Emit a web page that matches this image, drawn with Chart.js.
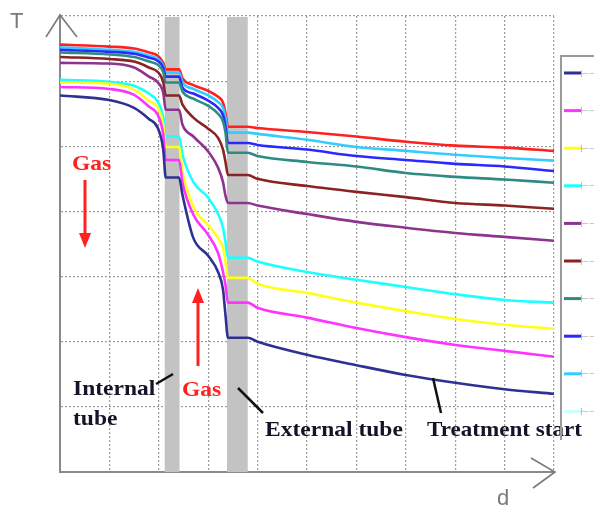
<!DOCTYPE html>
<html><head><meta charset="utf-8">
<style>html,body{margin:0;padding:0;background:#fff;overflow:hidden}#wrap{width:594px;height:505px;position:relative}</style>
<script src="https://cdn.jsdelivr.net/npm/chart.js@4"></script>
</head><body><div id="wrap"><canvas id="c"></canvas></div>
<script>
// distance d (0..100), sampled positions
const dPoints = [0,10,15,18,19.8,20.9,21.4,24.1,24.8,27,30,32,33,33.5,34,38,40,50,60,70,80,90,100];
// temperature T series (bottom to top)
const tNavy    = [57.8,57.1,55.9,54.2,52.8,49.5,45.2,45.2,42.5,35.9,33.2,30.7,28.0,24.1,20.6,20.6,20.0,18.0,16.4,14.9,13.7,12.7,12.0];
const tMagenta = [59.1,58.8,57.9,56.1,54.8,51.8,47.9,47.9,44.4,39.5,36.4,33.6,30.7,28.7,26.0,26.0,25.2,23.7,22.1,20.7,19.5,18.6,17.7];
const tYellow  = [59.8,59.6,58.7,57.0,55.9,53.3,49.9,49.9,46.1,40.7,37.9,35.9,34.4,32.3,29.8,29.8,28.9,27.5,26.0,24.7,23.5,22.6,22.0];
const tCyan    = [60.2,59.9,59.3,58.1,56.8,54.5,51.5,51.5,48.7,44.5,42.1,39.6,37.5,35.3,32.9,32.9,32.3,30.7,29.5,28.4,27.3,26.4,26.0];
const tPurple  = [62.8,62.7,62.1,60.7,59.8,58.2,55.6,55.6,53.3,51.5,49.2,46.7,44.5,42.4,41.3,41.3,40.9,39.6,38.4,37.5,36.7,36.1,35.5];
const tDarkRed = [63.7,63.4,63.0,62.1,61.4,59.9,57.8,57.8,56.4,54.4,52.7,51.3,49.5,47.6,45.6,45.6,45.0,43.9,43.0,42.2,41.3,40.9,40.4];
const tTeal    = [64.4,64.1,63.7,63.0,62.5,61.4,59.8,59.8,58.4,57.3,56.2,55.0,53.8,52.1,49.0,49.0,48.5,47.6,46.9,45.9,45.3,44.9,44.4];
const tBlue    = [64.8,64.5,64.2,63.6,63.1,62.1,60.7,60.7,59.0,58.1,57.0,55.9,54.8,53.1,50.5,50.5,50.2,49.5,48.5,47.9,47.3,46.9,46.2];
const tSky     = [65.2,64.8,64.5,63.9,63.4,62.4,61.3,61.3,59.8,58.8,57.8,56.8,55.9,54.4,52.1,52.1,51.9,51.0,49.9,49.3,48.7,48.2,47.8];
const tRed     = [65.6,65.3,65.0,64.4,63.9,62.8,61.8,61.8,60.4,59.4,58.5,57.6,56.7,55.1,53.0,53.0,52.8,52.2,51.5,50.7,50.1,49.8,49.3];
const seriesValues = [tNavy,tMagenta,tYellow,tCyan,tPurple,tDarkRed,tTeal,tBlue,tSky,tRed];
const seriesNames = ['s1','s2','s3','s4','s5','s6','s7','s8','s9','s10'];
const seriesColors = ['#2e3192','#ff33ff','#ffff1a','#1affff','#8e348e','#8b2323','#2e8b84','#2a2aff','#33ccff','#ff2020'];
const legendColors = ['#2e3192','#ff33ff','#ffff1a','#1affff','#8e348e','#8b2323','#2e8b84','#2a2aff','#33ccff','#c8ffff'];
// tube zones on d axis
const bands = [[21.2,24.2],[33.8,38.0]];

const overlay = {
  id:'overlay',
  beforeDatasetsDraw(chart){
    const {ctx, scales:{x,y}} = chart;
    ctx.save();
    ctx.fillStyle = '#c3c3c3';
    bands.forEach(b=>{
      const x0 = x.getPixelForValue(b[0]), x1 = x.getPixelForValue(b[1]);
      ctx.fillRect(x0, y.getPixelForValue(y.max)+1, x1-x0, y.getPixelForValue(0)-y.getPixelForValue(y.max)-1);
    });
    ctx.restore();
  },
  afterDraw(chart){
    const {ctx, chartArea:a} = chart;
    ctx.save();
    // axis arrows
    ctx.strokeStyle = '#7a7a7a'; ctx.lineWidth = 1.6;
    ctx.beginPath(); ctx.moveTo(46,37); ctx.lineTo(a.left,a.top-1); ctx.lineTo(77,37); ctx.stroke();
    ctx.beginPath(); ctx.moveTo(531,458); ctx.lineTo(a.right+1,a.bottom); ctx.lineTo(533,488); ctx.stroke();
    ctx.fillStyle = '#7a7a7a';
    ctx.font = '22px "Liberation Sans"'; ctx.textBaseline='alphabetic';
    ctx.fillText('T', 10, 28);
    ctx.fillText('d', 497, 505);
    // red Gas labels & arrows
    const stretch = (txt, x0, y0, sx)=>{ctx.save();ctx.translate(x0,y0);ctx.scale(sx,1);ctx.fillText(txt,0,0);ctx.restore();};
    ctx.fillStyle = '#ff2020'; ctx.strokeStyle = '#ff2020';
    ctx.font = 'bold 21px "Liberation Serif"';
    stretch('Gas', 72, 170, 1.12);
    stretch('Gas', 182, 396, 1.12);
    ctx.lineWidth = 3;
    ctx.beginPath(); ctx.moveTo(85,180); ctx.lineTo(85,236); ctx.stroke();
    ctx.beginPath(); ctx.moveTo(79,233); ctx.lineTo(91,233); ctx.lineTo(85,248); ctx.closePath(); ctx.fill();
    ctx.beginPath(); ctx.moveTo(198,366); ctx.lineTo(198,300); ctx.stroke();
    ctx.beginPath(); ctx.moveTo(192,303); ctx.lineTo(204,303); ctx.lineTo(198,288); ctx.closePath(); ctx.fill();
    // black labels
    ctx.fillStyle = '#141428'; ctx.strokeStyle = '#111';
    stretch('Internal', 73, 395, 1.12);
    stretch('tube', 73, 425, 1.12);
    stretch('External tube', 265, 436, 1.12);
    stretch('Treatment start', 427, 436, 1.1);
    ctx.lineWidth = 2.5;
    ctx.beginPath(); ctx.moveTo(156,384); ctx.lineTo(173,374); ctx.stroke();
    ctx.beginPath(); ctx.moveTo(238,388); ctx.lineTo(263,413); ctx.stroke();
    ctx.beginPath(); ctx.moveTo(433,378); ctx.lineTo(441,413); ctx.stroke();
    // legend box (clipped by window edge)
    ctx.strokeStyle = '#9a9a9a'; ctx.lineWidth = 2;
    ctx.beginPath(); ctx.moveTo(561,440); ctx.lineTo(561,56); ctx.lineTo(600,56); ctx.stroke();
    ctx.font = '10px "DejaVu Sans"'; ctx.textBaseline='middle';
    legendColors.forEach((c,i)=>{
      const yy = 73 + i*37.6;
      ctx.strokeStyle = c; ctx.lineWidth = 3;
      ctx.beginPath(); ctx.moveTo(564,yy); ctx.lineTo(581,yy); ctx.stroke();
      ctx.fillStyle = '#9a9a9a';
      ctx.fillText('⊢⊣ ' + seriesNames[i], 580, yy+1);
    });
    ctx.restore();
  }
};

new Chart(document.getElementById('c'), {
  type:'line',
  data:{ datasets: seriesValues.map((vals,i)=>({
    label: seriesNames[i],
    data: dPoints.map((d,k)=>({x:d,y:vals[k]})),
    borderColor: seriesColors[i], borderWidth: 2.6,
    pointRadius:0, fill:false, cubicInterpolationMode:'monotone'
  }))},
  options:{
    responsive:true, maintainAspectRatio:false, animation:false,
    layout:{padding:{left:60,top:16,right:40,bottom:33}},
    plugins:{legend:{display:false}, tooltip:{enabled:false}},
    scales:{
      x:{type:'linear', min:0, max:100,
         ticks:{display:false, stepSize:10},
         grid:{color:'#9c9c9c', lineWidth:1.2, drawTicks:false},
         border:{display:true, color:'#8a8a8a', width:2, dash:[2,2]}},
      y:{type:'linear', min:0, max:70,
         ticks:{display:false, stepSize:10},
         grid:{color:'#9c9c9c', lineWidth:1.2, drawTicks:false},
         border:{display:true, color:'#8a8a8a', width:2, dash:[2,2]}}
    }
  },
  plugins:[overlay]
});
</script></body></html>
